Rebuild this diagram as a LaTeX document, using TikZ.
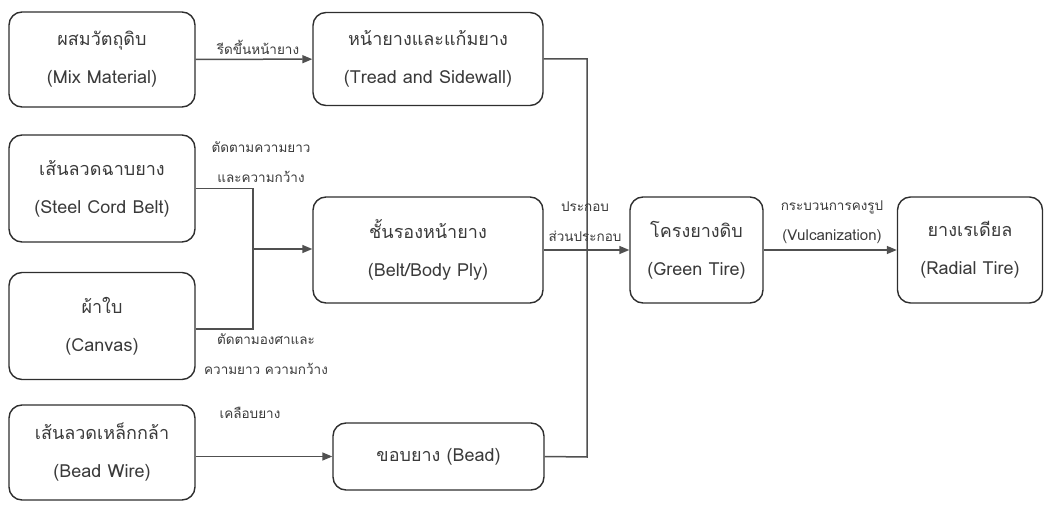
\documentclass[tikz,border=0pt]{standalone}
\usepackage{fontspec}
\newfontfamily\thaifont[Script=Thai]{Loma}
\usetikzlibrary{arrows.meta}
\definecolor{ink}{HTML}{2E2E2E}
\definecolor{txt}{HTML}{3A3A3A}
\definecolor{wire}{HTML}{505050}
\tikzset{
  box/.style={draw=ink, line width=1.4pt, rounded corners=13pt, inner sep=0pt,
    align=center, text=txt, font=\thaifont\fontsize{18}{38}\selectfont},
  lbl/.style={text=txt, font=\thaifont\fontsize{13.5}{30}\selectfont, align=center, inner sep=1pt},
  conn/.style={draw=wire, line width=1.5pt},
  arr/.style={conn, -{Triangle[length=10pt,width=8pt]}},
}
\begin{document}
\begin{tikzpicture}[x=1pt,y=-1pt]
\useasboundingbox (0,0) rectangle (1045,505);
% boxes
\node[box, minimum width=186pt, minimum height=95pt] (mix) at (102,59.5) {ผสมวัตถุดิบ\\(Mix Material)};
\node[box, minimum width=230pt, minimum height=93pt] (tread) at (428,59) {หน้ายางและแก้มยาง\\(Tread and Sidewall)};
\node[box, minimum width=186pt, minimum height=107pt] (steel) at (102,188.5) {เส้นลวดฉาบยาง\\(Steel Cord Belt)};
\node[box, minimum width=186pt, minimum height=107pt] (canvas) at (102,326) {ผ้าใบ\\(Canvas)};
\node[box, minimum width=186pt, minimum height=95pt] (wirebox) at (102,452.5) {เส้นลวดเหล็กกล้า\\(Bead Wire)};
\node[box, minimum width=230pt, minimum height=106pt] (belt) at (428,250) {ชั้นรองหน้ายาง\\(Belt/Body Ply)};
\node[box, minimum width=211pt, minimum height=67pt] (bead) at (438.5,456.5) {ขอบยาง (Bead)};
\node[box, minimum width=133pt, minimum height=106pt] (green) at (696.5,250) {โครงยางดิบ\\(Green Tire)};
\node[box, minimum width=145pt, minimum height=106pt] (radial) at (970,250) {ยางเรเดียล\\(Radial Tire)};
% junction coordinates
\coordinate (m) at (253,249);
\coordinate (ts) at (587,59);
\coordinate (bs) at (587,457);
% connectors
\draw[arr] (mix) -- (tread);
\draw[conn] (steel.east) -| (m);
\draw[conn] ([yshift=-3pt]canvas.east) -| (m);
\draw[arr] (m) -- (belt.west |- m);
\draw[conn] (tread.east) -- (ts) -- (bs) -- (bead.east);
\draw[arr] (belt) -- (green);
\draw[arr] (green) -- (radial);
\draw[arr] (wirebox.east |- bead) -- (bead.west);
% labels
\node[lbl] (l1) at (258,47) {รีดขึ้นหน้ายาง};
\node[lbl] (l2) at (261,162) {ตัดตามความยาว\\และความกว้าง};
\node[lbl] (l3) at (266,354) {ตัดตามองศาและ\\ความยาว ความกว้าง};
\node[lbl] (l4) at (585,222) {ประกอบ\\ส่วนประกอบ};
\node[lbl] (l5) at (832,222) {กระบวนการคงรูป\\{\fontsize{15}{30}\selectfont(Vulcanization)}};
\node[lbl] (l6) at (250,413) {เคลือบยาง};
\end{tikzpicture}
\end{document}
